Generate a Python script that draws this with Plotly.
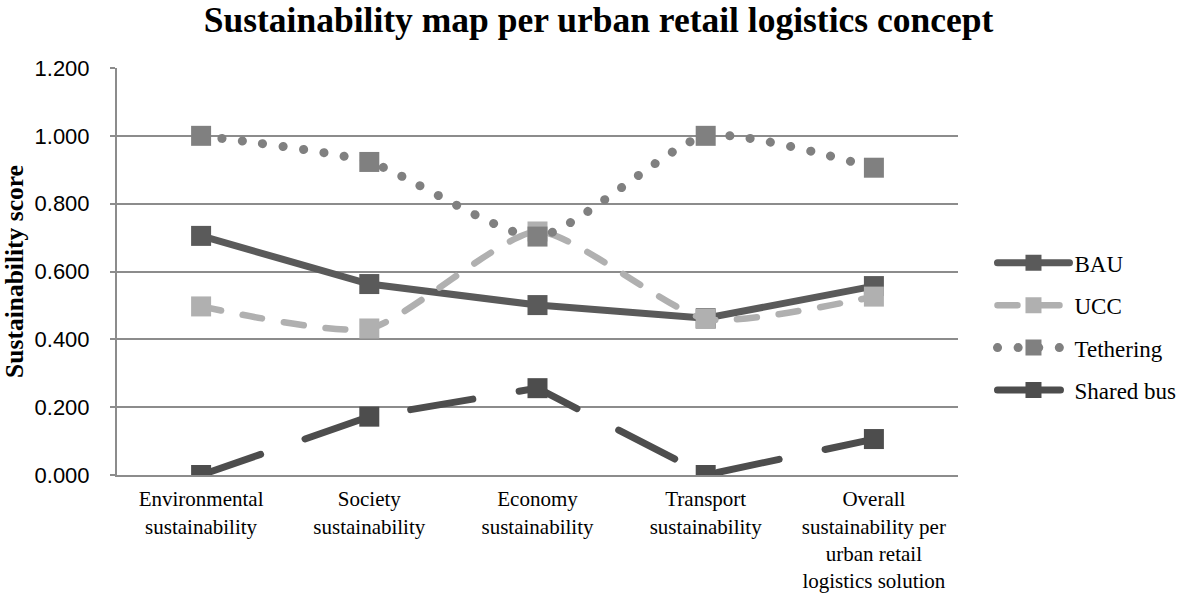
import plotly.graph_objects as go

categories = [
    "Environmental<br>sustainability",
    "Society<br>sustainability",
    "Economy<br>sustainability",
    "Transport<br>sustainability",
    "Overall<br>sustainability per<br>urban retail<br>logistics solution",
]
bau = [0.705, 0.563, 0.501, 0.462, 0.557]
ucc = [0.497, 0.432, 0.718, 0.460, 0.526]
tethering = [1.000, 0.923, 0.703, 1.000, 0.906]
shared_bus = [0.000, 0.172, 0.256, 0.000, 0.106]
y_ticks = [0.0, 0.2, 0.4, 0.6, 0.8, 1.0, 1.2]
y_tick_labels = ["0.000", "0.200", "0.400", "0.600", "0.800", "1.000", "1.200"]

serif = "Liberation Serif, Times New Roman, serif"
sans = "Liberation Sans, Arial, sans-serif"

fig = go.Figure()
fig.add_trace(go.Scatter(
    x=categories, y=bau, name="BAU", mode="lines+markers", legendgroup="a",
    line=dict(color="#5a5a5a", width=7),
    marker=dict(symbol="square", size=20, color="#5a5a5a"),
))
fig.add_trace(go.Scatter(
    x=categories, y=ucc, name="UCC", mode="lines+markers", legendgroup="b",
    line=dict(color="#b0b0b0", width=6.5, dash="20px,22px", shape="spline", smoothing=0.6),
    marker=dict(symbol="square", size=20, color="#b0b0b0"),
))
fig.add_trace(go.Scatter(
    x=categories, y=tethering, name="Tethering", mode="lines+markers", legendgroup="c",
    line=dict(color="#808080", width=9, dash="0.1px,20.5px", shape="spline", smoothing=0.6),
    marker=dict(symbol="square", size=20, color="#808080"),
))
fig.add_trace(go.Scatter(
    x=categories, y=shared_bus, name="Shared bus", mode="lines+markers", legendgroup="d",
    line=dict(color="#4d4d4d", width=7, dash="63px,47px"),
    marker=dict(symbol="square", size=20, color="#4d4d4d"),
))

fig.update_layout(
    width=1181, height=599,
    margin=dict(l=117, r=223, t=68, b=124, autoexpand=False),
    paper_bgcolor="white", plot_bgcolor="white",
    title=dict(text="<b>Sustainability map per urban retail logistics concept</b>",
               x=0.5068, xanchor="center", yref="container", y=0.988, yanchor="top",
               pad=dict(t=0, b=0, l=0, r=0),
               font=dict(family=serif, size=35.5, color="black")),
    showlegend=True,
    legend=dict(x=1.041, xanchor="left", y=0.364, yanchor="middle",
                font=dict(family=serif, size=23, color="black"),
                itemwidth=72, tracegroupgap=9.5, bgcolor="rgba(0,0,0,0)"),
    xaxis=dict(type="category", range=[-0.5, 4.5], showgrid=False,
               showline=True, linecolor="#8c8c8c", linewidth=2,
               ticks="", ticklabelstandoff=4,
               tickfont=dict(family=serif, size=21, color="black"),
               zeroline=False, fixedrange=True),
    yaxis=dict(range=[0, 1.2], tickvals=y_ticks, ticktext=y_tick_labels,
               showgrid=True, gridcolor="#8c8c8c", gridwidth=2,
               showline=True, linecolor="#8c8c8c", linewidth=2,
               ticks="outside", ticklen=5, tickcolor="#8c8c8c", tickwidth=2,
               ticklabelstandoff=16,
               tickfont=dict(family=sans, size=22, color="black"),
               title=dict(text="<b>Sustainability score</b>", standoff=12,
                          font=dict(family=serif, size=25.5, color="black")),
               zeroline=False, fixedrange=True),
)

post = """
document.body.style.margin = '0';
document.body.style.padding = '0';
var gd = document.getElementById('{plot_id}');
function roundCaps(){
  var paths = gd.querySelectorAll('.scatterlayer .js-line, .legend .js-line');
  paths.forEach(function(p){ p.style.strokeLinecap = 'round'; });
}
roundCaps();
gd.on('plotly_afterplot', roundCaps);
"""
fig.write_html("out.html", post_script=post, config={"displayModeBar": False})
